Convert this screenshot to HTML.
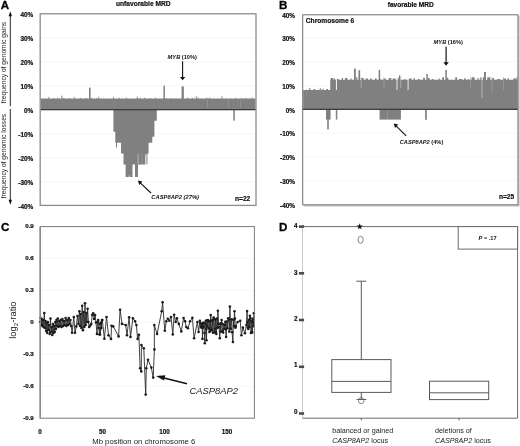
<!DOCTYPE html>
<html><head><meta charset="utf-8"><title>Figure</title>
<style>
html,body{margin:0;padding:0;background:#fff;}
body{width:520px;height:446px;overflow:hidden;}
svg{display:block;filter:blur(0.35px);font-family:"Liberation Sans",Arial,sans-serif;}
</style></head><body>
<svg width="520" height="446" viewBox="0 0 520 446">
<rect width="520" height="446" fill="#fff"/>
<line x1="40.2" y1="181.6" x2="256.0" y2="181.6" stroke="#f7f7f7" stroke-width="1"/>
<line x1="40.2" y1="157.6" x2="256.0" y2="157.6" stroke="#f7f7f7" stroke-width="1"/>
<line x1="40.2" y1="133.6" x2="256.0" y2="133.6" stroke="#f7f7f7" stroke-width="1"/>
<line x1="40.2" y1="85.6" x2="256.0" y2="85.6" stroke="#f7f7f7" stroke-width="1"/>
<line x1="40.2" y1="61.6" x2="256.0" y2="61.6" stroke="#f7f7f7" stroke-width="1"/>
<line x1="40.2" y1="37.6" x2="256.0" y2="37.6" stroke="#f7f7f7" stroke-width="1"/>
<polygon fill="#808080" points="40.7,109.6 40.7,98.6 44.7,98.6 49.7,98.6 51.7,98.6 53.7,98.6 53.7,98.0 54.5,98.0 54.5,98.6 57.5,98.6 57.5,97.4 58.3,97.4 58.3,98.6 63.3,98.6 63.3,98.0 64.1,98.0 64.1,98.6 69.1,98.6 69.1,98.0 69.9,98.0 69.9,98.6 72.9,98.6 74.9,98.6 79.9,98.6 79.9,97.8 80.7,97.8 80.7,98.6 82.7,98.6 85.7,98.6 85.7,97.8 86.5,97.8 86.5,98.6 88.5,98.6 91.5,98.6 91.5,97.8 92.3,97.8 92.3,98.6 96.3,98.6 96.3,98.0 97.1,98.0 97.1,98.6 99.1,98.6 104.1,98.6 109.1,98.6 114.1,98.6 119.1,98.6 119.1,97.8 119.9,97.8 119.9,98.6 122.9,98.6 125.9,98.6 125.9,97.6 126.7,97.6 126.7,98.6 131.7,98.6 136.7,98.6 136.7,98.0 137.5,98.0 137.5,98.6 139.5,98.6 139.5,97.8 140.3,97.8 140.3,98.6 144.3,98.6 144.3,97.4 145.1,97.4 145.1,98.6 150.1,98.6 150.1,98.0 150.9,98.0 150.9,98.6 154.9,98.6 154.9,97.6 155.7,97.6 155.7,98.6 160.7,98.6 165.7,98.6 165.7,98.0 166.5,98.0 166.5,98.6 170.5,98.6 170.5,98.0 171.3,98.0 171.3,98.6 173.3,98.6 177.3,98.6 182.3,98.6 182.3,97.4 183.1,97.4 183.1,98.6 187.1,98.6 187.1,97.4 187.9,97.4 187.9,98.6 191.9,98.6 191.9,98.0 192.7,98.0 192.7,98.6 197.7,98.6 197.7,97.6 198.5,97.6 198.5,98.6 201.5,98.6 206.5,98.6 206.5,97.4 207.3,97.4 207.3,98.6 209.3,98.6 209.3,97.4 210.1,97.4 210.1,98.6 214.1,98.6 219.1,98.6 223.1,98.6 227.1,98.6 232.1,98.6 235.1,98.6 235.1,97.8 235.9,97.8 235.9,98.6 238.9,98.6 240.9,98.6 240.9,97.8 241.7,97.8 241.7,98.6 245.7,98.6 245.7,97.8 246.5,97.8 246.5,98.6 251.5,98.6 251.5,97.6 252.3,97.6 252.3,98.6 255.3,98.6 255.5,98.6 255.5,98.6 255.5,109.6"/>
<rect x="89.00" y="87.6" width="1.6" height="22.0" fill="#808080"/>
<rect x="163.45" y="85.6" width="1.5" height="24.0" fill="#808080"/>
<rect x="181.55" y="86.4" width="2.3" height="23.2" fill="#808080"/>
<rect x="61.30" y="95.6" width="1.0" height="14.0" fill="#808080"/>
<rect x="48.40" y="96.8" width="0.8" height="12.8" fill="#808080"/>
<rect x="73.80" y="96.8" width="0.8" height="12.8" fill="#808080"/>
<rect x="98.40" y="96.6" width="0.8" height="13.0" fill="#808080"/>
<rect x="113.00" y="96.8" width="0.8" height="12.8" fill="#808080"/>
<rect x="136.80" y="96.4" width="0.8" height="13.2" fill="#808080"/>
<rect x="195.85" y="96.2" width="0.9" height="13.4" fill="#808080"/>
<rect x="221.45" y="96.2" width="0.9" height="13.4" fill="#808080"/>
<rect x="207.3" y="99.1" width="0.45" height="9.5" fill="#a4a4a4"/>
<rect x="228.2" y="99.1" width="0.45" height="9.5" fill="#a4a4a4"/>
<rect x="240.3" y="99.1" width="0.45" height="9.5" fill="#a4a4a4"/>
<polygon fill="#808080" points="113.4,109.6 113.4,131.8 115.3,131.8 115.3,142.8 116.0,142.8 116.0,147.5 117.0,147.5 117.0,142.8 121.0,142.8 121.0,153.6 123.5,153.6 123.5,164.5 125.6,164.5 125.6,176.9 128.8,176.9 128.8,175.4 129.5,175.4 129.5,176.9 132.5,176.9 132.5,164.5 135.0,164.5 135.0,176.9 138.0,176.9 138.0,164.5 145.3,164.5 145.3,154.6 146.4,154.6 146.4,164.5 147.4,164.5 147.4,153.6 148.6,153.6 148.6,142.8 152.3,142.8 152.3,136.7 154.4,136.7 154.4,120.8 156.8,120.8 156.8,109.6"/>
<rect x="137.3" y="153.6" width="1.6" height="10.9" fill="#a2a2a2"/>
<rect x="141.6" y="153.6" width="0.7" height="10.9" fill="#9a9a9a"/>
<rect x="233.3" y="109.6" width="1.5" height="11.0" fill="#808080"/>
<rect x="40.2" y="109.0" width="215.8" height="1.3" fill="#3c3c3c"/>
<rect x="40.2" y="13.8" width="215.8" height="191.6" fill="none" stroke="#8c8c8c" stroke-width="1.3"/>
<text x="33.2" y="16.8" font-size="6.4" font-weight="bold" font-style="normal" text-anchor="end" fill="#111"  stroke="#111" stroke-width="0.2">40%</text>
<text x="33.2" y="40.8" font-size="6.4" font-weight="bold" font-style="normal" text-anchor="end" fill="#111"  stroke="#111" stroke-width="0.2">30%</text>
<text x="33.2" y="64.8" font-size="6.4" font-weight="bold" font-style="normal" text-anchor="end" fill="#111"  stroke="#111" stroke-width="0.2">20%</text>
<text x="33.2" y="88.8" font-size="6.4" font-weight="bold" font-style="normal" text-anchor="end" fill="#111"  stroke="#111" stroke-width="0.2">10%</text>
<text x="33.2" y="112.8" font-size="6.4" font-weight="bold" font-style="normal" text-anchor="end" fill="#111"  stroke="#111" stroke-width="0.2">0%</text>
<text x="33.2" y="136.8" font-size="6.4" font-weight="bold" font-style="normal" text-anchor="end" fill="#111"  stroke="#111" stroke-width="0.2">-10%</text>
<text x="33.2" y="160.8" font-size="6.4" font-weight="bold" font-style="normal" text-anchor="end" fill="#111"  stroke="#111" stroke-width="0.2">-20%</text>
<text x="33.2" y="184.8" font-size="6.4" font-weight="bold" font-style="normal" text-anchor="end" fill="#111"  stroke="#111" stroke-width="0.2">-30%</text>
<text x="33.2" y="208.8" font-size="6.4" font-weight="bold" font-style="normal" text-anchor="end" fill="#111"  stroke="#111" stroke-width="0.2">-40%</text>
<text x="0.8" y="8.9" font-size="11.6" font-weight="bold" font-style="normal" text-anchor="start" fill="#000" stroke="#000" stroke-width="0.3">A</text>
<text x="116.0" y="6.1" font-size="6.65" font-weight="bold" font-style="normal" text-anchor="start" fill="#111"  stroke="#111" stroke-width="0.2">unfavorable MRD</text>
<text x="250.3" y="200.8" font-size="6.6" font-weight="bold" font-style="normal" text-anchor="end" fill="#111"  stroke="#111" stroke-width="0.2">n=22</text>
<text transform="translate(5.9,103.2) rotate(-90)" font-size="6.66" fill="#222">frequency of genomic gains</text>
<text transform="translate(5.9,198.2) rotate(-90)" font-size="6.66" fill="#222">frequency of genomic losses</text>
<line x1="10.3" y1="106.2" x2="10.3" y2="15" stroke="#111" stroke-width="0.9"/>
<polygon points="10.3,11.2 8.6,16.2 12.0,16.2" fill="#111"/>
<line x1="10.3" y1="109" x2="10.3" y2="200.5" stroke="#111" stroke-width="0.9"/>
<polygon points="10.3,204.8 8.6,199.7 12.0,199.7" fill="#111"/>
<text x="167.6" y="58.9" font-size="5.7" font-weight="bold" fill="#111"><tspan font-style="italic">MYB</tspan> (10%)</text>
<line x1="182.6" y1="61.3" x2="182.6" y2="77.5" stroke="#111" stroke-width="1.1"/>
<polygon points="182.6,80.2 179.9,76.9 185.3,76.9" fill="#111"/>
<text x="151.3" y="199.4" font-size="5.8" font-weight="bold" font-style="italic" fill="#111">CASP8AP2 (27%)</text>
<line x1="151" y1="193" x2="139.8" y2="182.3" stroke="#111" stroke-width="1.1"/>
<polygon points="138,180.6 142.4,181.6 139.2,185.0" fill="#111"/>
<line x1="302.7" y1="180.7" x2="518.0" y2="180.7" stroke="#f7f7f7" stroke-width="1"/>
<line x1="302.7" y1="156.9" x2="518.0" y2="156.9" stroke="#f7f7f7" stroke-width="1"/>
<line x1="302.7" y1="133.1" x2="518.0" y2="133.1" stroke="#f7f7f7" stroke-width="1"/>
<line x1="302.7" y1="85.5" x2="518.0" y2="85.5" stroke="#f7f7f7" stroke-width="1"/>
<line x1="302.7" y1="61.7" x2="518.0" y2="61.7" stroke="#f7f7f7" stroke-width="1"/>
<line x1="302.7" y1="37.9" x2="518.0" y2="37.9" stroke="#f7f7f7" stroke-width="1"/>
<polygon fill="#808080" points="303.2,109.3 303.2,89.9 306.2,89.9 309.2,89.9 309.2,87.9 310.4,87.9 310.4,89.9 313.4,89.9 313.4,89.1 315.2,89.1 315.2,89.9 316.7,89.9 319.7,89.9 319.7,88.3 320.9,88.3 320.9,89.9 322.4,89.9 322.4,88.7 323.6,88.7 323.6,89.9 326.1,89.9 326.1,89.1 327.9,89.1 327.9,89.9 330.3,89.9 330.3,79.7 330.9,79.7 330.9,78.1 333.3,78.1 333.3,79.7 335.8,79.7 335.8,78.9 338.8,78.9 338.8,79.7 341.8,79.7 341.8,78.1 343.0,78.1 343.0,79.7 345.0,79.7 345.0,78.1 347.4,78.1 347.4,79.7 350.4,79.7 350.4,78.5 351.6,78.5 351.6,79.7 353.6,79.7 356.1,79.7 356.1,77.3 357.3,77.3 357.3,79.7 359.8,79.7 361.3,79.7 361.3,78.1 363.7,78.1 363.7,79.7 365.7,79.7 365.7,78.5 368.1,78.5 368.1,79.7 370.1,79.7 370.1,78.5 371.9,78.5 371.9,79.7 374.9,79.7 374.9,78.5 376.7,78.5 376.7,79.7 379.7,79.7 379.7,78.9 380.9,78.9 380.9,79.7 383.4,79.7 383.4,78.5 385.8,78.5 385.8,79.7 388.8,79.7 388.8,78.1 391.2,78.1 391.2,79.7 392.7,79.7 392.7,78.5 395.7,78.5 395.7,79.7 397.7,79.7 397.7,77.7 398.9,77.7 398.9,79.7 401.9,79.7 404.4,79.7 404.4,78.9 405.6,78.9 405.6,79.7 408.6,79.7 408.6,78.5 411.6,78.5 411.6,79.7 413.6,79.7 413.6,78.1 414.8,78.1 414.8,79.7 417.8,79.7 417.8,78.9 419.6,78.9 419.6,79.7 421.6,79.7 423.1,79.7 423.1,77.7 424.9,77.7 424.9,79.7 427.9,79.7 427.9,78.1 429.7,78.1 429.7,79.7 431.7,79.7 431.7,78.9 433.5,78.9 433.5,79.7 436.5,79.7 438.5,79.7 438.5,78.5 439.7,78.5 439.7,79.7 442.2,79.7 442.2,77.3 444.0,77.3 444.0,79.7 446.5,79.7 446.5,77.7 448.3,77.7 448.3,79.7 449.8,79.7 452.3,79.7 455.3,79.7 455.3,77.3 457.1,77.3 457.1,79.7 459.1,79.7 459.1,78.9 462.1,78.9 462.1,79.7 464.1,79.7 464.1,78.5 465.9,78.5 465.9,79.7 467.9,79.7 467.9,78.9 469.1,78.9 469.1,79.7 471.6,79.7 471.6,77.3 474.6,77.3 474.6,79.7 476.1,79.7 477.6,79.7 477.6,78.1 478.8,78.1 478.8,79.7 480.3,79.7 480.3,77.3 481.5,77.3 481.5,79.7 483.0,79.7 483.0,77.3 484.8,77.3 484.8,79.7 487.3,79.7 487.3,77.3 490.3,77.3 490.3,79.7 492.3,79.7 492.3,78.1 494.1,78.1 494.1,79.7 497.1,79.7 497.1,78.9 500.1,78.9 500.1,79.7 503.1,79.7 503.1,78.5 506.1,78.5 506.1,79.7 507.6,79.7 507.6,78.1 508.8,78.1 508.8,79.7 510.8,79.7 513.3,79.7 513.3,78.5 516.3,78.5 516.3,79.7 517.5,79.7 517.5,109.3"/>
<rect x="354.00" y="68.6" width="1.8" height="40.7" fill="#808080"/>
<rect x="358.45" y="70.2" width="1.7" height="39.1" fill="#808080"/>
<rect x="378.65" y="69.8" width="1.5" height="39.5" fill="#808080"/>
<rect x="399.00" y="75.4" width="1.4" height="33.9" fill="#808080"/>
<rect x="426.35" y="73.8" width="1.5" height="35.5" fill="#808080"/>
<rect x="445.35" y="69.8" width="1.5" height="39.5" fill="#808080"/>
<rect x="484.05" y="72.0" width="1.9" height="37.3" fill="#808080"/>
<rect x="330.70" y="78.2" width="1.0" height="31.1" fill="#808080"/>
<rect x="334.00" y="78.6" width="1.0" height="30.7" fill="#808080"/>
<rect x="516.50" y="77.2" width="1.0" height="32.1" fill="#808080"/>
<rect x="335.95" y="77" width="0.9" height="13.0" fill="#ffffff"/>
<rect x="360.75" y="77" width="0.7" height="11.2" fill="#b4b4b4"/>
<rect x="383.70" y="77" width="0.6" height="11.0" fill="#b0b0b0"/>
<rect x="396.55" y="77" width="0.9" height="13.0" fill="#f4f4f4"/>
<rect x="400.45" y="77" width="0.7" height="11.0" fill="#bdbdbd"/>
<rect x="407.65" y="77" width="0.9" height="13.0" fill="#f4f4f4"/>
<rect x="470.00" y="77" width="0.6" height="10.0" fill="#a6a6a6"/>
<rect x="481.65" y="77" width="0.7" height="21.0" fill="#cacaca"/>
<rect x="491.60" y="77" width="0.6" height="15.0" fill="#a6a6a6"/>
<rect x="503.20" y="77" width="0.6" height="13.0" fill="#a4a4a4"/>
<rect x="306.30" y="89.5" width="1.0" height="9.5" fill="#8b8b8b"/>
<rect x="326.0" y="109.3" width="4.6" height="10.3" fill="#808080"/>
<rect x="327.2" y="109.3" width="1.6" height="20.1" fill="#808080"/>
<rect x="335.8" y="109.3" width="1.5" height="10.3" fill="#808080"/>
<rect x="379.6" y="109.3" width="21.3" height="10.3" fill="#808080"/>
<rect x="387.3" y="110.3" width="0.5" height="9.3" fill="#a8a8a8"/>
<rect x="425.1" y="109.3" width="1.7" height="10.5" fill="#808080"/>
<rect x="302.7" y="108.7" width="215.3" height="1.3" fill="#3c3c3c"/>
<polyline points="519.0,15.8 519.0,205.8 303.7,205.8" fill="none" stroke="#bcbcbc" stroke-width="1.2"/>
<rect x="302.7" y="14.8" width="215.3" height="190.0" fill="none" stroke="#6e6e6e" stroke-width="1"/>
<text x="295.0" y="17.5" font-size="6.4" font-weight="bold" font-style="normal" text-anchor="end" fill="#111"  stroke="#111" stroke-width="0.2">40%</text>
<text x="295.0" y="41.3" font-size="6.4" font-weight="bold" font-style="normal" text-anchor="end" fill="#111"  stroke="#111" stroke-width="0.2">30%</text>
<text x="295.0" y="65.1" font-size="6.4" font-weight="bold" font-style="normal" text-anchor="end" fill="#111"  stroke="#111" stroke-width="0.2">20%</text>
<text x="295.0" y="88.9" font-size="6.4" font-weight="bold" font-style="normal" text-anchor="end" fill="#111"  stroke="#111" stroke-width="0.2">10%</text>
<text x="295.0" y="112.6" font-size="6.4" font-weight="bold" font-style="normal" text-anchor="end" fill="#111"  stroke="#111" stroke-width="0.2">0%</text>
<text x="295.0" y="136.4" font-size="6.4" font-weight="bold" font-style="normal" text-anchor="end" fill="#111"  stroke="#111" stroke-width="0.2">-10%</text>
<text x="295.0" y="160.2" font-size="6.4" font-weight="bold" font-style="normal" text-anchor="end" fill="#111"  stroke="#111" stroke-width="0.2">-20%</text>
<text x="295.0" y="184.0" font-size="6.4" font-weight="bold" font-style="normal" text-anchor="end" fill="#111"  stroke="#111" stroke-width="0.2">-30%</text>
<text x="295.0" y="207.8" font-size="6.4" font-weight="bold" font-style="normal" text-anchor="end" fill="#111"  stroke="#111" stroke-width="0.2">-40%</text>
<text x="279.0" y="8.7" font-size="11.6" font-weight="bold" font-style="normal" text-anchor="start" fill="#000" stroke="#000" stroke-width="0.3">B</text>
<text x="387.7" y="6.5" font-size="6.6" font-weight="bold" font-style="normal" text-anchor="start" fill="#111"  stroke="#111" stroke-width="0.2">favorable MRD</text>
<text x="305.8" y="22.6" font-size="6.65" font-weight="bold" font-style="normal" text-anchor="start" fill="#111"  stroke="#111" stroke-width="0.2">Chromosome 6</text>
<text x="514.2" y="199.0" font-size="6.6" font-weight="bold" font-style="normal" text-anchor="end" fill="#111"  stroke="#111" stroke-width="0.2">n=25</text>
<text x="433.6" y="44.2" font-size="5.7" font-weight="bold" fill="#111"><tspan font-style="italic">MYB</tspan> (16%)</text>
<line x1="446.1" y1="46.8" x2="446.1" y2="63" stroke="#111" stroke-width="1.2"/>
<polygon points="446.1,65.8 443.4,62.2 448.8,62.2" fill="#111"/>
<text x="399.7" y="144.1" font-size="5.7" font-weight="bold" fill="#111"><tspan font-style="italic">CASP8AP2</tspan> (4%)</text>
<line x1="406.2" y1="135.8" x2="395.6" y2="125.3" stroke="#111" stroke-width="1.1"/>
<polygon points="393.8,123.5 398.2,124.5 395.0,127.9" fill="#111"/>
<line x1="40.2" y1="258.6" x2="254.4" y2="258.6" stroke="#f7f7f7" stroke-width="1"/>
<line x1="40.2" y1="290.6" x2="254.4" y2="290.6" stroke="#f7f7f7" stroke-width="1"/>
<line x1="40.2" y1="322.6" x2="254.4" y2="322.6" stroke="#f7f7f7" stroke-width="1"/>
<line x1="40.2" y1="354.6" x2="254.4" y2="354.6" stroke="#f7f7f7" stroke-width="1"/>
<line x1="40.2" y1="386.6" x2="254.4" y2="386.6" stroke="#f7f7f7" stroke-width="1"/>
<polyline fill="none" stroke="#2a2a2a" stroke-width="0.9" stroke-linejoin="round" points="40.0,322.0 40.6,318.0 41.2,325.0 41.8,319.0 42.4,326.0 43.0,320.0 43.6,327.0 44.3,313.0 44.9,328.0 45.5,321.0 46.1,331.0 46.7,323.0 47.3,333.0 47.9,322.0 48.5,330.0 49.1,325.0 49.7,334.0 50.5,318.5 51.1,332.0 51.7,327.0 52.3,335.0 52.9,324.0 53.5,333.0 54.1,326.0 54.7,332.0 55.3,322.0 55.9,329.0 56.5,320.0 57.1,326.0 57.8,318.5 58.5,327.0 59.2,321.0 60.0,326.0 60.8,320.0 61.6,327.0 62.4,319.0 63.2,326.0 64.0,321.0 64.8,325.0 65.6,318.0 66.4,326.0 67.2,320.0 68.0,325.0 68.8,318.0 69.6,324.0 70.4,320.0 71.2,326.0 72.1,332.7 73.8,317.0 75.0,332.7 76.3,326.4 77.5,316.0 78.4,324.0 79.4,311.3 80.1,326.0 80.7,314.0 81.4,328.0 82.2,305.7 82.9,330.2 83.6,312.0 84.3,327.0 85.0,303.2 85.7,325.0 86.3,313.0 86.9,322.0 87.6,308.8 88.4,322.0 89.2,327.0 90.2,325.5 91.3,323.9 92.2,315.0 93.2,313.2 94.1,319.0 95.1,315.1 96.0,322.6 97.0,333.9 97.6,322.0 98.2,320.1 98.8,328.0 99.5,334.5 100.1,324.0 100.7,322.6 101.3,328.0 102.0,320.1 100.0,334.5 102.3,320.1 104.4,338.7 106.5,317.0 108.5,335.2 111.0,338.9 111.5,325.7 113.2,326.4 118.6,336.4 120.1,309.8 122.0,323.9 125.7,325.1 127.0,335.2 129.1,317.3 130.5,337.0 132.9,318.2 135.1,321.3 136.4,325.1 137.6,338.9 138.9,334.9 140.1,368.2 141.3,371.4 141.4,345.0 143.8,348.2 145.7,394.6 146.3,368.2 148.0,359.8 151.3,367.6 153.2,377.6 154.4,349.4 154.3,325.1 157.1,333.9 161.7,311.3 162.6,302.3 164.8,330.8 166.3,321.3 167.8,318.8 169.4,320.7 171.0,317.0 172.8,334.5 174.1,314.8 175.7,322.0 176.9,318.2 178.8,323.9 181.3,331.4 183.6,318.0 185.1,321.3 186.3,327.0 187.9,328.2 190.1,321.3 192.4,317.8 194.1,338.3 197.4,322.0 198.6,332.0 199.9,320.7 200.4,323.2 200.9,326.7 201.3,327.6 201.7,324.2 202.2,327.1 202.5,338.9 202.8,322.7 203.2,327.6 203.5,326.4 203.9,322.9 204.4,333.0 204.8,343.3 205.6,323.9 205.8,320.8 206.3,328.9 206.5,340.2 206.9,320.5 207.4,326.6 207.8,320.1 208.4,320.6 208.9,328.4 209.4,332.0 209.8,321.2 210.3,330.9 210.7,315.1 211.1,320.7 211.6,329.6 211.9,330.1 212.5,320.1 213.0,332.7 213.6,317.6 214.1,318.8 214.6,332.4 215.1,328.9 215.4,319.6 215.9,332.1 216.3,333.9 216.9,318.6 217.4,327.9 217.9,310.7 218.6,324.3 219.1,327.3 219.8,338.3 220.4,323.3 220.9,331.7 221.6,320.1 222.1,323.9 222.6,330.7 223.2,332.6 223.9,324.6 224.4,328.8 225.1,325.1 225.3,321.8 225.8,329.6 226.1,337.0 226.9,321.5 227.4,328.3 228.2,318.2 228.8,320.0 229.3,331.6 229.9,306.5 230.7,328.9 231.6,319.3 232.1,332.3 232.9,342.0 233.4,319.9 233.9,326.1 234.5,311.3 234.9,318.6 235.4,327.8 235.8,326.4 237.6,322.0 240.2,320.7 241.4,335.2 242.9,327.6 244.9,333.3 246.4,325.1 247.1,311.1 247.4,322.3 247.9,327.6 248.3,328.9 248.9,319.9 249.4,326.9 249.9,315.7 250.4,318.1 250.9,333.0 251.5,332.0 251.8,320.9 252.3,332.4 252.7,318.8 253.0,322.4 253.5,326.3 253.8,313.2"/>
<g fill="#1c1c1c"><circle cx="40.0" cy="322.0" r="1.3"/><circle cx="40.6" cy="318.0" r="1.3"/><circle cx="41.2" cy="325.0" r="1.3"/><circle cx="41.8" cy="319.0" r="1.3"/><circle cx="42.4" cy="326.0" r="1.3"/><circle cx="43.0" cy="320.0" r="1.3"/><circle cx="43.6" cy="327.0" r="1.3"/><circle cx="44.3" cy="313.0" r="1.3"/><circle cx="44.9" cy="328.0" r="1.3"/><circle cx="45.5" cy="321.0" r="1.3"/><circle cx="46.1" cy="331.0" r="1.3"/><circle cx="46.7" cy="323.0" r="1.3"/><circle cx="47.3" cy="333.0" r="1.3"/><circle cx="47.9" cy="322.0" r="1.3"/><circle cx="48.5" cy="330.0" r="1.3"/><circle cx="49.1" cy="325.0" r="1.3"/><circle cx="49.7" cy="334.0" r="1.3"/><circle cx="50.5" cy="318.5" r="1.3"/><circle cx="51.1" cy="332.0" r="1.3"/><circle cx="51.7" cy="327.0" r="1.3"/><circle cx="52.3" cy="335.0" r="1.3"/><circle cx="52.9" cy="324.0" r="1.3"/><circle cx="53.5" cy="333.0" r="1.3"/><circle cx="54.1" cy="326.0" r="1.3"/><circle cx="54.7" cy="332.0" r="1.3"/><circle cx="55.3" cy="322.0" r="1.3"/><circle cx="55.9" cy="329.0" r="1.3"/><circle cx="56.5" cy="320.0" r="1.3"/><circle cx="57.1" cy="326.0" r="1.3"/><circle cx="57.8" cy="318.5" r="1.3"/><circle cx="58.5" cy="327.0" r="1.3"/><circle cx="59.2" cy="321.0" r="1.3"/><circle cx="60.0" cy="326.0" r="1.3"/><circle cx="60.8" cy="320.0" r="1.3"/><circle cx="61.6" cy="327.0" r="1.3"/><circle cx="62.4" cy="319.0" r="1.3"/><circle cx="63.2" cy="326.0" r="1.3"/><circle cx="64.0" cy="321.0" r="1.3"/><circle cx="64.8" cy="325.0" r="1.3"/><circle cx="65.6" cy="318.0" r="1.3"/><circle cx="66.4" cy="326.0" r="1.3"/><circle cx="67.2" cy="320.0" r="1.3"/><circle cx="68.0" cy="325.0" r="1.3"/><circle cx="68.8" cy="318.0" r="1.3"/><circle cx="69.6" cy="324.0" r="1.3"/><circle cx="70.4" cy="320.0" r="1.3"/><circle cx="71.2" cy="326.0" r="1.3"/><circle cx="72.1" cy="332.7" r="1.3"/><circle cx="73.8" cy="317.0" r="1.3"/><circle cx="75.0" cy="332.7" r="1.3"/><circle cx="76.3" cy="326.4" r="1.3"/><circle cx="77.5" cy="316.0" r="1.3"/><circle cx="78.4" cy="324.0" r="1.3"/><circle cx="79.4" cy="311.3" r="1.3"/><circle cx="80.1" cy="326.0" r="1.3"/><circle cx="80.7" cy="314.0" r="1.3"/><circle cx="81.4" cy="328.0" r="1.3"/><circle cx="82.2" cy="305.7" r="1.3"/><circle cx="82.9" cy="330.2" r="1.3"/><circle cx="83.6" cy="312.0" r="1.3"/><circle cx="84.3" cy="327.0" r="1.3"/><circle cx="85.0" cy="303.2" r="1.3"/><circle cx="85.7" cy="325.0" r="1.3"/><circle cx="86.3" cy="313.0" r="1.3"/><circle cx="86.9" cy="322.0" r="1.3"/><circle cx="87.6" cy="308.8" r="1.3"/><circle cx="88.4" cy="322.0" r="1.3"/><circle cx="89.2" cy="327.0" r="1.3"/><circle cx="90.2" cy="325.5" r="1.3"/><circle cx="91.3" cy="323.9" r="1.3"/><circle cx="92.2" cy="315.0" r="1.3"/><circle cx="93.2" cy="313.2" r="1.3"/><circle cx="94.1" cy="319.0" r="1.3"/><circle cx="95.1" cy="315.1" r="1.3"/><circle cx="96.0" cy="322.6" r="1.3"/><circle cx="97.0" cy="333.9" r="1.3"/><circle cx="97.6" cy="322.0" r="1.3"/><circle cx="98.2" cy="320.1" r="1.3"/><circle cx="98.8" cy="328.0" r="1.3"/><circle cx="99.5" cy="334.5" r="1.3"/><circle cx="100.1" cy="324.0" r="1.3"/><circle cx="100.7" cy="322.6" r="1.3"/><circle cx="101.3" cy="328.0" r="1.3"/><circle cx="102.0" cy="320.1" r="1.3"/><circle cx="100.0" cy="334.5" r="1.3"/><circle cx="102.3" cy="320.1" r="1.3"/><circle cx="104.4" cy="338.7" r="1.3"/><circle cx="106.5" cy="317.0" r="1.3"/><circle cx="108.5" cy="335.2" r="1.3"/><circle cx="111.0" cy="338.9" r="1.3"/><circle cx="111.5" cy="325.7" r="1.3"/><circle cx="113.2" cy="326.4" r="1.3"/><circle cx="118.6" cy="336.4" r="1.3"/><circle cx="120.1" cy="309.8" r="1.3"/><circle cx="122.0" cy="323.9" r="1.3"/><circle cx="125.7" cy="325.1" r="1.3"/><circle cx="127.0" cy="335.2" r="1.3"/><circle cx="129.1" cy="317.3" r="1.3"/><circle cx="130.5" cy="337.0" r="1.3"/><circle cx="132.9" cy="318.2" r="1.3"/><circle cx="135.1" cy="321.3" r="1.3"/><circle cx="136.4" cy="325.1" r="1.3"/><circle cx="137.6" cy="338.9" r="1.3"/><circle cx="138.9" cy="334.9" r="1.3"/><circle cx="140.1" cy="368.2" r="1.3"/><circle cx="141.3" cy="371.4" r="1.3"/><circle cx="141.4" cy="345.0" r="1.3"/><circle cx="143.8" cy="348.2" r="1.3"/><circle cx="145.7" cy="394.6" r="1.3"/><circle cx="146.3" cy="368.2" r="1.3"/><circle cx="148.0" cy="359.8" r="1.3"/><circle cx="151.3" cy="367.6" r="1.3"/><circle cx="153.2" cy="377.6" r="1.3"/><circle cx="154.4" cy="349.4" r="1.3"/><circle cx="154.3" cy="325.1" r="1.3"/><circle cx="157.1" cy="333.9" r="1.3"/><circle cx="161.7" cy="311.3" r="1.3"/><circle cx="162.6" cy="302.3" r="1.3"/><circle cx="164.8" cy="330.8" r="1.3"/><circle cx="166.3" cy="321.3" r="1.3"/><circle cx="167.8" cy="318.8" r="1.3"/><circle cx="169.4" cy="320.7" r="1.3"/><circle cx="171.0" cy="317.0" r="1.3"/><circle cx="172.8" cy="334.5" r="1.3"/><circle cx="174.1" cy="314.8" r="1.3"/><circle cx="175.7" cy="322.0" r="1.3"/><circle cx="176.9" cy="318.2" r="1.3"/><circle cx="178.8" cy="323.9" r="1.3"/><circle cx="181.3" cy="331.4" r="1.3"/><circle cx="183.6" cy="318.0" r="1.3"/><circle cx="185.1" cy="321.3" r="1.3"/><circle cx="186.3" cy="327.0" r="1.3"/><circle cx="187.9" cy="328.2" r="1.3"/><circle cx="190.1" cy="321.3" r="1.3"/><circle cx="192.4" cy="317.8" r="1.3"/><circle cx="194.1" cy="338.3" r="1.3"/><circle cx="197.4" cy="322.0" r="1.3"/><circle cx="198.6" cy="332.0" r="1.3"/><circle cx="199.9" cy="320.7" r="1.3"/><circle cx="200.4" cy="323.2" r="1.3"/><circle cx="200.9" cy="326.7" r="1.3"/><circle cx="201.3" cy="327.6" r="1.3"/><circle cx="201.7" cy="324.2" r="1.3"/><circle cx="202.2" cy="327.1" r="1.3"/><circle cx="202.5" cy="338.9" r="1.3"/><circle cx="202.8" cy="322.7" r="1.3"/><circle cx="203.2" cy="327.6" r="1.3"/><circle cx="203.5" cy="326.4" r="1.3"/><circle cx="203.9" cy="322.9" r="1.3"/><circle cx="204.4" cy="333.0" r="1.3"/><circle cx="204.8" cy="343.3" r="1.3"/><circle cx="205.6" cy="323.9" r="1.3"/><circle cx="205.8" cy="320.8" r="1.3"/><circle cx="206.3" cy="328.9" r="1.3"/><circle cx="206.5" cy="340.2" r="1.3"/><circle cx="206.9" cy="320.5" r="1.3"/><circle cx="207.4" cy="326.6" r="1.3"/><circle cx="207.8" cy="320.1" r="1.3"/><circle cx="208.4" cy="320.6" r="1.3"/><circle cx="208.9" cy="328.4" r="1.3"/><circle cx="209.4" cy="332.0" r="1.3"/><circle cx="209.8" cy="321.2" r="1.3"/><circle cx="210.3" cy="330.9" r="1.3"/><circle cx="210.7" cy="315.1" r="1.3"/><circle cx="211.1" cy="320.7" r="1.3"/><circle cx="211.6" cy="329.6" r="1.3"/><circle cx="211.9" cy="330.1" r="1.3"/><circle cx="212.5" cy="320.1" r="1.3"/><circle cx="213.0" cy="332.7" r="1.3"/><circle cx="213.6" cy="317.6" r="1.3"/><circle cx="214.1" cy="318.8" r="1.3"/><circle cx="214.6" cy="332.4" r="1.3"/><circle cx="215.1" cy="328.9" r="1.3"/><circle cx="215.4" cy="319.6" r="1.3"/><circle cx="215.9" cy="332.1" r="1.3"/><circle cx="216.3" cy="333.9" r="1.3"/><circle cx="216.9" cy="318.6" r="1.3"/><circle cx="217.4" cy="327.9" r="1.3"/><circle cx="217.9" cy="310.7" r="1.3"/><circle cx="218.6" cy="324.3" r="1.3"/><circle cx="219.1" cy="327.3" r="1.3"/><circle cx="219.8" cy="338.3" r="1.3"/><circle cx="220.4" cy="323.3" r="1.3"/><circle cx="220.9" cy="331.7" r="1.3"/><circle cx="221.6" cy="320.1" r="1.3"/><circle cx="222.1" cy="323.9" r="1.3"/><circle cx="222.6" cy="330.7" r="1.3"/><circle cx="223.2" cy="332.6" r="1.3"/><circle cx="223.9" cy="324.6" r="1.3"/><circle cx="224.4" cy="328.8" r="1.3"/><circle cx="225.1" cy="325.1" r="1.3"/><circle cx="225.3" cy="321.8" r="1.3"/><circle cx="225.8" cy="329.6" r="1.3"/><circle cx="226.1" cy="337.0" r="1.3"/><circle cx="226.9" cy="321.5" r="1.3"/><circle cx="227.4" cy="328.3" r="1.3"/><circle cx="228.2" cy="318.2" r="1.3"/><circle cx="228.8" cy="320.0" r="1.3"/><circle cx="229.3" cy="331.6" r="1.3"/><circle cx="229.9" cy="306.5" r="1.3"/><circle cx="230.7" cy="328.9" r="1.3"/><circle cx="231.6" cy="319.3" r="1.3"/><circle cx="232.1" cy="332.3" r="1.3"/><circle cx="232.9" cy="342.0" r="1.3"/><circle cx="233.4" cy="319.9" r="1.3"/><circle cx="233.9" cy="326.1" r="1.3"/><circle cx="234.5" cy="311.3" r="1.3"/><circle cx="234.9" cy="318.6" r="1.3"/><circle cx="235.4" cy="327.8" r="1.3"/><circle cx="235.8" cy="326.4" r="1.3"/><circle cx="237.6" cy="322.0" r="1.3"/><circle cx="240.2" cy="320.7" r="1.3"/><circle cx="241.4" cy="335.2" r="1.3"/><circle cx="242.9" cy="327.6" r="1.3"/><circle cx="244.9" cy="333.3" r="1.3"/><circle cx="246.4" cy="325.1" r="1.3"/><circle cx="247.1" cy="311.1" r="1.3"/><circle cx="247.4" cy="322.3" r="1.3"/><circle cx="247.9" cy="327.6" r="1.3"/><circle cx="248.3" cy="328.9" r="1.3"/><circle cx="248.9" cy="319.9" r="1.3"/><circle cx="249.4" cy="326.9" r="1.3"/><circle cx="249.9" cy="315.7" r="1.3"/><circle cx="250.4" cy="318.1" r="1.3"/><circle cx="250.9" cy="333.0" r="1.3"/><circle cx="251.5" cy="332.0" r="1.3"/><circle cx="251.8" cy="320.9" r="1.3"/><circle cx="252.3" cy="332.4" r="1.3"/><circle cx="252.7" cy="318.8" r="1.3"/><circle cx="253.0" cy="322.4" r="1.3"/><circle cx="253.5" cy="326.3" r="1.3"/><circle cx="253.8" cy="313.2" r="1.3"/></g>
<rect x="40.2" y="226.6" width="214.2" height="191.6" fill="none" stroke="#7a7a7a" stroke-width="1"/>
<line x1="40.2" y1="226.6" x2="40.2" y2="418.2" stroke="#8c8c8c" stroke-width="1.5"/>
<text x="33.8" y="228.3" font-size="6.2" font-weight="bold" font-style="normal" text-anchor="end" fill="#111"  stroke="#111" stroke-width="0.2">0.9</text>
<text x="33.8" y="260.3" font-size="6.2" font-weight="bold" font-style="normal" text-anchor="end" fill="#111"  stroke="#111" stroke-width="0.2">0.6</text>
<text x="33.8" y="292.3" font-size="6.2" font-weight="bold" font-style="normal" text-anchor="end" fill="#111"  stroke="#111" stroke-width="0.2">0.3</text>
<text x="33.8" y="324.3" font-size="6.2" font-weight="bold" font-style="normal" text-anchor="end" fill="#111"  stroke="#111" stroke-width="0.2">0</text>
<text x="33.8" y="356.3" font-size="6.2" font-weight="bold" font-style="normal" text-anchor="end" fill="#111"  stroke="#111" stroke-width="0.2">-0.3</text>
<text x="33.8" y="388.3" font-size="6.2" font-weight="bold" font-style="normal" text-anchor="end" fill="#111"  stroke="#111" stroke-width="0.2">-0.6</text>
<text x="33.8" y="420.3" font-size="6.2" font-weight="bold" font-style="normal" text-anchor="end" fill="#111"  stroke="#111" stroke-width="0.2">-0.9</text>
<text x="40" y="434.4" font-size="6.3" font-weight="bold" font-style="normal" text-anchor="middle" fill="#111"  stroke="#111" stroke-width="0.2">0</text>
<text x="102.5" y="434.4" font-size="6.3" font-weight="bold" font-style="normal" text-anchor="middle" fill="#111"  stroke="#111" stroke-width="0.2">50</text>
<text x="164.5" y="434.4" font-size="6.3" font-weight="bold" font-style="normal" text-anchor="middle" fill="#111"  stroke="#111" stroke-width="0.2">100</text>
<text x="227" y="434.4" font-size="6.3" font-weight="bold" font-style="normal" text-anchor="middle" fill="#111"  stroke="#111" stroke-width="0.2">150</text>
<text x="92.3" y="443.9" font-size="7.7" font-weight="normal" font-style="normal" text-anchor="start" fill="#222" >Mb position on chromosome 6</text>
<text x="0.9" y="231.2" font-size="11.6" font-weight="bold" font-style="normal" text-anchor="start" fill="#000" stroke="#000" stroke-width="0.3">C</text>
<text transform="translate(15.8,338.8) rotate(-90)" font-size="9.4" fill="#222">log<tspan font-size="6.2" dy="1.8">2</tspan><tspan dy="-1.8">-ratio</tspan></text>
<text x="189.4" y="394.2" font-size="9.4" font-weight="normal" font-style="italic" text-anchor="start" fill="#222" >CASP8AP2</text>
<line x1="187" y1="383.8" x2="162" y2="377.5" stroke="#111" stroke-width="1.6"/>
<polygon points="156.0,376.0 165.3,375.3 164.0,380.6" fill="#111"/>
<line x1="302.5" y1="226.6" x2="302.5" y2="418.2" stroke="#c8c8c8" stroke-width="1"/>
<line x1="302.5" y1="226.6" x2="517.6" y2="226.6" stroke="#6a6a6a" stroke-width="1"/>
<line x1="517.6" y1="226.6" x2="517.6" y2="418.2" stroke="#6a6a6a" stroke-width="1"/>
<line x1="302.5" y1="418.2" x2="517.6" y2="418.2" stroke="#6a6a6a" stroke-width="1"/>
<rect x="458.2" y="226.6" width="59.4" height="22.5" fill="#fff" stroke="#6a6a6a" stroke-width="1"/>
<text x="478.5" y="239.9" font-size="5.7" font-weight="bold" fill="#111"><tspan font-style="italic">P</tspan> = .17</text>
<rect x="298.9" y="225.3" width="5.2" height="2.6" fill="#4c4c4c"/>
<text x="297.6" y="227.9" font-size="6.3" font-weight="bold" font-style="normal" text-anchor="end" fill="#111"  stroke="#111" stroke-width="0.2">4</text>
<rect x="298.9" y="272.0" width="5.2" height="2.6" fill="#4c4c4c"/>
<text x="297.6" y="274.6" font-size="6.3" font-weight="bold" font-style="normal" text-anchor="end" fill="#111"  stroke="#111" stroke-width="0.2">3</text>
<rect x="298.9" y="318.7" width="5.2" height="2.6" fill="#4c4c4c"/>
<text x="297.6" y="321.2" font-size="6.3" font-weight="bold" font-style="normal" text-anchor="end" fill="#111"  stroke="#111" stroke-width="0.2">2</text>
<rect x="298.9" y="365.5" width="5.2" height="2.6" fill="#4c4c4c"/>
<text x="297.6" y="367.3" font-size="6.3" font-weight="bold" font-style="normal" text-anchor="end" fill="#111"  stroke="#111" stroke-width="0.2">1</text>
<rect x="298.9" y="412.2" width="5.2" height="2.6" fill="#4c4c4c"/>
<text x="297.6" y="413.6" font-size="6.3" font-weight="bold" font-style="normal" text-anchor="end" fill="#111"  stroke="#111" stroke-width="0.2">0</text>
<text x="278.9" y="231.4" font-size="11.6" font-weight="bold" font-style="normal" text-anchor="start" fill="#000" stroke="#000" stroke-width="0.3">D</text>
<rect x="331.8" y="359.6" width="59.2" height="32.8" stroke="#5a5a5a" stroke-width="1" fill="none"/>
<line x1="331.8" y1="381.4" x2="391.0" y2="381.4" stroke="#5a5a5a" stroke-width="1" fill="none"/>
<line x1="361.3" y1="281.2" x2="361.3" y2="359.6" stroke="#5a5a5a" stroke-width="1" fill="none"/>
<line x1="356.3" y1="281.2" x2="366.3" y2="281.2" stroke="#5a5a5a" stroke-width="1" fill="none"/>
<line x1="361.3" y1="392.4" x2="361.3" y2="399.5" stroke="#5a5a5a" stroke-width="1" fill="none"/>
<line x1="356.5" y1="399.5" x2="366.3" y2="399.5" stroke="#5a5a5a" stroke-width="1" fill="none"/>
<ellipse cx="361.2" cy="400.6" rx="2.8" ry="3.1" stroke="#777" stroke-width="0.9" fill="none"/>
<ellipse cx="360.6" cy="239.8" rx="2.6" ry="3.5" stroke="#777" stroke-width="0.9" fill="none"/>
<polygon fill="#111" points="359.70,223.30 360.46,225.55 362.84,225.58 360.94,227.00 361.64,229.27 359.70,227.90 357.76,229.27 358.46,227.00 356.56,225.58 358.94,225.55"/>
<rect x="429.5" y="381.2" width="59.2" height="18.4" stroke="#5a5a5a" stroke-width="1" fill="none"/>
<line x1="429.5" y1="392.8" x2="488.7" y2="392.8" stroke="#5a5a5a" stroke-width="1" fill="none"/>
<line x1="361.3" y1="418.2" x2="361.3" y2="420.3" stroke="#5a5a5a" stroke-width="1" fill="none"/>
<line x1="459.0" y1="418.2" x2="459.0" y2="420.3" stroke="#5a5a5a" stroke-width="1" fill="none"/>
<text x="332.2" y="433.2" font-size="7.2" font-weight="normal" font-style="normal" text-anchor="start" fill="#222" >balanced or gained</text>
<text x="332.2" y="442.8" font-size="7.2" fill="#222"><tspan font-style="italic">CASP8AP2</tspan> locus</text>
<text x="435.0" y="433.2" font-size="7.2" font-weight="normal" font-style="normal" text-anchor="start" fill="#222" >deletions of</text>
<text x="435.0" y="442.8" font-size="7.2" fill="#222"><tspan font-style="italic">CASP8AP2</tspan> locus</text>
</svg>
</body></html>
